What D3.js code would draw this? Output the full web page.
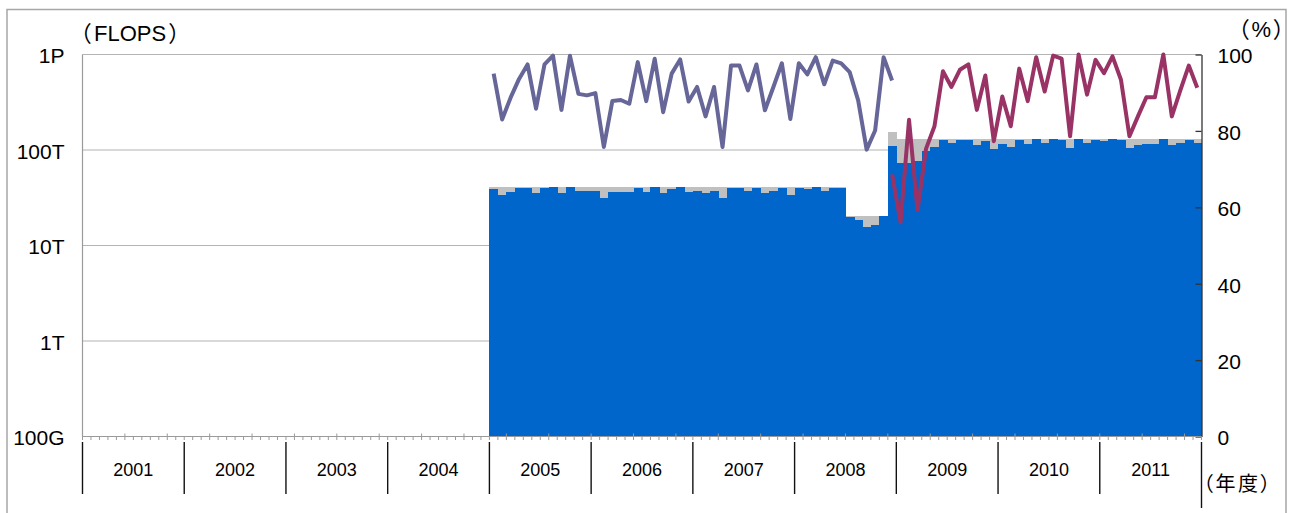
<!DOCTYPE html>
<html>
<head>
<meta charset="utf-8">
<script src="https://cdn.jsdelivr.net/npm/d3@7"></script>
<style>
  body { margin: 0; background: #fff; }
  svg { display: block; font-family: "Liberation Sans", Arial, "Noto Sans CJK JP", sans-serif; }
  .cjk { font-family: "Liberation Sans", "Noto Sans CJK JP", sans-serif; font-feature-settings: "palt"; }
</style>
</head>
<body>
<svg id="chart" width="1291" height="513"></svg>
<script>
// Fiscal years on the category axis (12 monthly slots each, April to March)
const fiscalYears = ["2001", "2002", "2003", "2004", "2005", "2006", "2007", "2008", "2009", "2010", "2011"];
// Monthly data begins in April of this fiscal year
const firstDataYear = "2005";

// Peak performance available each month (TFLOPS), from April 2005
const peakTflops = [
  41, 41, 41, 41, 41, 41, 41, 41, 41, 41, 41, 41,
  41, 41, 41, 41, 41, 41, 41, 41, 41, 41, 41, 41,
  41, 41, 41, 41, 41, 41, 41, 41, 41, 41, 41, 41,
  41, 41, 41, 41, 41, 41, 20.5, 20.5, 20.5, 20.5, 20.5, 155,
  131, 131, 131, 131, 131, 131, 131, 131, 131, 131, 131, 131,
  131, 131, 131, 131, 131, 131, 131, 131, 131, 131, 131, 131,
  131, 131, 131, 131, 131, 131, 131, 131, 131, 131, 131, 131
];

// Performance actually delivered each month (TFLOPS), from April 2005
const usedTflops = [
  39.1, 33.8, 36.6, 39.7, 40.3, 35.7, 40.3, 41, 35.7, 41, 37.5, 37.5,
  37.5, 31.7, 36.3, 36.3, 36.3, 40.3, 36.6, 41, 35.7, 39.3, 41, 36.6,
  37.5, 35.2, 37.2, 31.7, 40.3, 40.3, 37.5, 40.3, 35.7, 37.5, 40.3, 33.8,
  40.3, 39.1, 41, 37.2, 40.3, 40.3, 19.7, 18.5, 15.5, 16.4, 20.5, 110,
  73.6, 73.6, 77.3, 98.4, 108, 127, 119, 127, 127, 113, 125, 102,
  116, 108, 127, 116, 131, 119, 131, 127, 104, 131, 117, 127,
  125, 131, 127, 104, 113, 116, 116, 131, 113, 119, 127, 119
];

// Utilisation rate of the first system (%), April 2005 - March 2009
const esRate = [
  95, 83, 88.7, 93.6, 97.4, 85.8, 97.4, 99.7, 85.5, 99.7, 89.7, 89.3,
  89.9, 75.8, 87.8, 88.1, 87.1, 98.0, 87.8, 98.9, 84.9, 95.0, 98.7, 87.7,
  91.5, 83.8, 91.5, 75.8, 97.1, 97.1, 90.6, 97.4, 85.4, 91.5, 97.7, 83.1,
  97.7, 94.8, 99.3, 92.2, 98.4, 97.7, 95.4, 88.0, 75.1, 80.1, 99.3, 93.2
];

// Utilisation rate of the second system (%), from March 2009
const es2Start = 47;
const es2Rate = [
  68.6, 56.1, 82.9, 59.2, 75.3, 81.2, 95.6, 91.5, 96.0, 97.4,
  85.5, 94.5, 77.3, 89.0, 81.2, 96.3, 87.8, 99.3, 90.3, 99.7,
  98.9, 78.6, 100, 89.5, 98.6, 95.1, 99.5, 93.4, 78.6, 83.8,
  88.8, 88.8, 100, 83.8, 90.6, 97.1, 91.3
];

const flopsTicks = [0.1, 1, 10, 100, 1000];
const flopsTickLabels = ["100G", "1T", "10T", "100T", "1P"];
const pctTicks = [0, 20, 40, 60, 80, 100];

// ---- layout ----
const plotLeft = 82.5, plotRight = 1201.5, plotTop = 54.5, plotBottom = 436.5;
const svg = d3.select("#chart");

// outer frame
svg.append("rect")
  .attr("x", 7).attr("y", 9.5).attr("width", 1279).attr("height", 600)
  .attr("fill", "none").attr("stroke", "#a6a6a6").attr("stroke-width", 1.5);

const nMonths = fiscalYears.length * 12;
const x = d3.scaleBand().domain(d3.range(nMonths)).range([plotLeft, plotRight]).padding(0);
const offset = fiscalYears.indexOf(firstDataYear) * 12;
const y = d3.scaleLog().domain([0.1, 1000]).range([plotBottom, plotTop]);
const yp = d3.scaleLinear().domain([0, 100]).range([plotBottom, plotTop]);
const xc = i => x(i + offset) + x.bandwidth() / 2;

// gridlines
svg.append("g")
  .selectAll("line")
  .data(flopsTicks.slice(1))
  .join("line")
  .attr("x1", plotLeft).attr("x2", plotRight)
  .attr("y1", d => y(d)).attr("y2", d => y(d))
  .attr("stroke", "#b4b4b4").attr("stroke-width", 1.2);

// bars: peak (grey) behind delivered (blue)
const bars = svg.append("g").attr("shape-rendering", "crispEdges");
bars.selectAll("rect.peak")
  .data(peakTflops)
  .join("rect")
  .attr("class", "peak")
  .attr("x", (d, i) => x(i + offset))
  .attr("width", x.bandwidth() + 0.6)
  .attr("y", d => y(d))
  .attr("height", d => y(0.1) - y(d))
  .attr("fill", "#c0c0c0");
bars.selectAll("rect.used")
  .data(usedTflops)
  .join("rect")
  .attr("class", "used")
  .attr("x", (d, i) => x(i + offset))
  .attr("width", x.bandwidth() + 0.6)
  .attr("y", d => y(d))
  .attr("height", d => y(0.1) - y(d))
  .attr("fill", "#0066cc");

// left axis
svg.append("line")
  .attr("x1", plotLeft).attr("x2", plotLeft).attr("y1", plotTop).attr("y2", plotBottom)
  .attr("stroke", "#9a9a9a").attr("stroke-width", 1.2);
svg.append("line")
  .attr("x1", plotLeft).attr("x2", plotRight).attr("y1", plotTop).attr("y2", plotTop)
  .attr("stroke", "#b4b4b4").attr("stroke-width", 1.2);
const yAxis = svg.append("g")
  .attr("transform", `translate(${plotLeft},0)`)
  .call(d3.axisLeft(y).tickValues(flopsTicks)
    .tickFormat((d, i) => flopsTickLabels[i])
    .tickSize(0).tickPadding(18));
yAxis.select(".domain").remove();
yAxis.selectAll("text")
  .attr("font-size", 21).attr("fill", "#000")
  .attr("font-family", "Liberation Sans, Arial, sans-serif")
  .attr("dy", "0.4em");

// right axis (percent)
const pAxis = svg.append("g")
  .attr("transform", `translate(${plotRight},0)`)
  .call(d3.axisRight(yp).tickValues(pctTicks)
    .tickSizeInner(-6).tickSizeOuter(0).tickPadding(16));
pAxis.select(".domain").attr("stroke", "#333").attr("stroke-width", 1.3);
pAxis.selectAll(".tick line").attr("stroke", "#333").attr("stroke-width", 1.3);
pAxis.selectAll("text")
  .attr("font-size", 21).attr("fill", "#000")
  .attr("font-family", "Liberation Sans, Arial, sans-serif")
  .attr("dy", "0.4em");

// category axis
const cat = svg.append("g");
cat.append("line")
  .attr("x1", plotLeft).attr("x2", plotRight).attr("y1", plotBottom).attr("y2", plotBottom)
  .attr("stroke", "#9a9a9a").attr("stroke-width", 1.2);
cat.selectAll("line.tick")
  .data(d3.range(nMonths + 1))
  .join("line")
  .attr("class", "tick")
  .attr("x1", i => i < nMonths ? x(i) : plotRight)
  .attr("x2", i => i < nMonths ? x(i) : plotRight)
  .attr("y1", i => i % 5 === 0 ? plotBottom - 3 : plotBottom)
  .attr("y2", plotBottom + 3.5)
  .attr("stroke", "#9a9a9a").attr("stroke-width", 1);
cat.selectAll("line.sep")
  .data(d3.range(fiscalYears.length + 1))
  .join("line")
  .attr("class", "sep")
  .attr("x1", k => k < fiscalYears.length ? x(k * 12) : plotRight)
  .attr("x2", k => k < fiscalYears.length ? x(k * 12) : plotRight)
  .attr("y1", 442)
  .attr("y2", k => k < fiscalYears.length ? 494 : 508)
  .attr("stroke", "#111").attr("stroke-width", 1.4);
cat.selectAll("text")
  .data(fiscalYears)
  .join("text")
  .attr("x", (d, k) => x(k * 12) + x.bandwidth() * 6)
  .attr("y", 476)
  .attr("text-anchor", "middle")
  .attr("font-size", 18)
  .text(d => d);

// utilisation lines
const line = d3.line().x(d => xc(d.i)).y(d => yp(d.v));
svg.append("path")
  .datum(esRate.map((v, i) => ({ i, v })))
  .attr("d", line)
  .attr("fill", "none").attr("stroke", "#666699").attr("stroke-width", 4)
  .attr("stroke-linejoin", "round");
svg.append("path")
  .datum(es2Rate.map((v, k) => ({ i: k + es2Start, v })))
  .attr("d", line)
  .attr("fill", "none").attr("stroke", "#993366").attr("stroke-width", 4)
  .attr("stroke-linejoin", "round");

// unit labels
const flopsUnit = svg.append("text").attr("class", "cjk")
  .attr("x", 80).attr("y", 40.5).attr("font-size", 22);
flopsUnit.append("tspan").text("（");
flopsUnit.append("tspan").attr("dx", 3).text("FLOPS");
flopsUnit.append("tspan").attr("dx", 3).text("）");
svg.append("text").attr("class", "cjk")
  .attr("x", 1238).attr("y", 36.5).attr("font-size", 22).attr("letter-spacing", 2.5)
  .text("（%）");
svg.append("text").attr("class", "cjk")
  .attr("x", 1203).attr("y", 491).attr("font-size", 20).attr("letter-spacing", 2.5)
  .text("（年度）");
</script>
</body>
</html>
